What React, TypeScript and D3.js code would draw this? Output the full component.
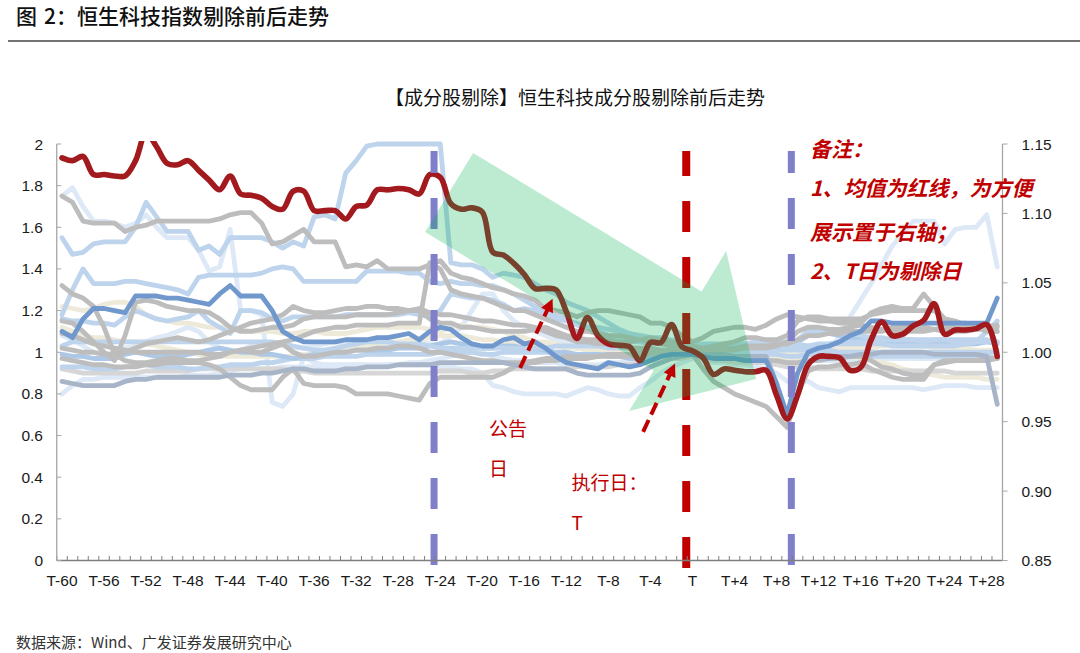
import React from 'react';
import * as d3 from 'd3';

const N = 90;
const CATEGORIES: string[] = Array.from({ length: N }, (_, i) =>
  i < 60 ? `T-${60 - i}` : i === 60 ? 'T' : `T+${i - 60}`
);
const X_TICK_LABELS = ['T-60','T-56','T-52','T-48','T-44','T-40','T-36','T-32','T-28','T-24','T-20','T-16','T-12','T-8','T-4','T','T+4','T+8','T+12','T+16','T+20','T+24','T+28'];
const LEFT_TICKS = [0, 0.2, 0.4, 0.6, 0.8, 1, 1.2, 1.4, 1.6, 1.8, 2];
const LEFT_TICK_LABELS = ['0','0.2','0.4','0.6','0.8','1','1.2','1.4','1.6','1.8','2'];
const RIGHT_TICKS = [0.85, 0.9, 0.95, 1.0, 1.05, 1.1, 1.15];
const RIGHT_TICK_LABELS = ['0.85','0.90','0.95','1.00','1.05','1.10','1.15'];

// mean (right axis)
const MEAN = [
  1.140,1.138,1.141,1.128,1.128,1.127,1.127,1.138,1.158,1.148,
  1.136,1.135,1.138,1.131,1.124,1.117,1.127,1.114,1.113,1.111,
  1.105,1.103,1.116,1.116,1.102,1.102,1.102,1.096,1.105,1.106,
  1.117,1.117,1.118,1.117,1.114,1.128,1.126,1.107,1.103,1.104,
  1.101,1.072,1.070,1.064,1.056,1.046,1.046,1.045,1.029,1.010,
  1.025,1.012,1.006,1.005,1.004,0.994,1.007,1.007,1.020,1.004,
  1.001,0.996,0.984,0.988,0.987,0.986,0.986,0.987,0.969,0.952,
  0.969,0.991,0.997,0.997,0.996,0.987,0.989,1.009,1.022,1.012,
  1.013,1.019,1.023,1.035,1.013,1.016,1.016,1.017,1.020,0.997,
];

// constituent stocks (left axis)
const PALE1 = [
  1.75,1.79,1.70,1.63,1.63,1.62,1.60,1.62,1.66,1.60,
  1.55,1.55,1.55,1.49,1.39,1.41,1.59,1.20,1.20,1.18,
  0.76,0.74,0.80,0.98,0.95,0.94,0.94,0.94,0.94,0.94,
  0.94,0.94,0.94,0.94,0.94,0.94,0.93,0.93,0.92,0.92,
  0.90,0.84,0.83,0.81,0.80,0.80,0.80,0.80,0.79,0.81,
  0.83,0.82,0.80,0.79,0.79,0.83,0.86,0.90,0.93,0.95,
  0.97,0.96,0.95,0.95,0.94,0.94,0.93,0.92,0.90,0.86,
  0.86,0.86,0.83,0.82,0.81,0.83,0.83,0.83,0.83,0.83,
  0.83,0.83,0.82,0.83,0.84,0.84,0.84,0.83,0.83,0.83,
];
const PALE2 = [
  0.80,0.84,0.87,0.87,0.88,0.88,0.88,0.88,0.88,0.88,
  0.88,0.88,0.89,0.89,0.89,0.90,0.91,0.92,0.92,0.92,
  0.92,0.93,0.93,0.93,0.93,0.93,0.92,0.92,0.92,0.93,
  0.93,0.94,0.94,0.95,0.95,0.96,0.97,0.98,0.99,1.00,
  1.00,0.98,0.97,0.96,0.96,0.95,0.95,0.95,0.94,0.94,
  0.94,0.94,0.95,0.95,0.96,0.96,0.97,0.97,0.98,0.98,
  0.98,0.98,0.98,0.97,0.97,0.97,0.96,0.96,0.96,0.95,
  0.95,0.96,0.96,0.96,0.96,0.96,0.97,0.97,0.97,0.97,
  0.97,0.97,0.97,0.97,0.97,0.97,0.97,0.97,0.97,0.97,
];
const PALE3 = [
  1.08,1.06,1.03,1.00,0.99,1.00,1.02,1.03,1.05,1.07,
  1.08,1.10,1.12,1.10,1.05,1.02,1.00,1.01,1.03,1.04,
  1.04,1.03,1.02,1.02,1.03,1.04,1.05,1.04,1.03,1.02,
  1.02,1.03,1.04,1.05,1.05,1.04,1.04,1.08,1.12,1.20,
  1.28,1.28,1.20,1.15,1.12,1.10,1.08,1.06,1.05,1.04,
  1.03,1.02,1.02,1.01,1.01,1.00,1.00,1.00,1.00,1.00,
  1.00,1.00,1.00,0.99,0.99,0.99,0.98,0.98,0.98,0.98,
  0.98,0.99,1.00,1.00,1.08,1.17,1.25,1.33,1.42,1.51,
  1.57,1.63,1.63,1.63,1.52,1.59,1.60,1.60,1.66,1.41,
];
const BEIGE1 = [
  1.22,1.21,1.20,1.21,1.23,1.24,1.24,1.22,1.18,1.16,
  1.15,1.14,1.14,1.13,1.12,1.12,1.12,1.11,1.10,1.10,
  1.10,1.09,1.09,1.10,1.10,1.09,1.09,1.09,1.10,1.11,
  1.12,1.12,1.12,1.12,1.12,1.11,1.10,1.12,1.13,1.12,
  1.12,1.11,1.10,1.08,1.07,1.05,1.05,1.04,1.03,1.02,
  1.02,1.02,1.01,1.01,1.01,1.00,1.00,1.01,1.01,1.00,
  1.00,1.00,1.00,1.01,1.00,1.00,0.99,0.99,0.98,0.97,
  0.97,0.98,0.99,0.99,0.98,0.98,0.97,0.96,0.95,0.94,
  0.92,0.91,0.90,0.89,0.88,0.88,0.88,0.88,0.87,0.87,
];
const BEIGE2 = [
  1.12,1.10,1.08,1.07,1.07,1.06,1.05,1.05,1.04,1.03,
  1.02,1.01,1.00,0.99,0.98,0.98,0.98,0.98,0.98,0.98,
  0.98,0.98,0.98,0.99,0.99,1.00,1.01,1.02,1.03,1.03,
  1.04,1.05,1.05,1.06,1.06,1.07,1.08,1.08,1.08,1.07,
  1.06,1.06,1.05,1.05,1.04,1.04,1.03,1.03,1.02,1.02,
  1.01,1.01,1.01,1.00,1.00,1.00,1.00,1.00,1.00,1.00,
  1.00,1.00,1.00,1.00,1.00,1.00,1.00,1.00,0.99,0.99,
  1.00,1.01,1.01,1.01,1.02,1.02,1.02,1.02,1.03,1.03,
  1.03,1.03,1.03,1.02,1.02,1.02,1.02,1.01,1.01,1.01,
];
const LGREY1 = [
  0.92,0.91,0.90,0.90,0.90,0.90,0.90,0.90,0.91,0.91,
  0.91,0.91,0.91,0.92,0.92,0.92,0.92,0.92,0.92,0.92,
  0.92,0.92,0.91,0.91,0.90,0.90,0.90,0.90,0.90,0.90,
  0.90,0.90,0.90,0.90,0.90,0.90,0.91,0.91,0.91,0.90,
  0.90,0.91,0.91,0.92,0.92,0.92,0.92,0.92,0.92,0.93,
  0.93,0.93,0.93,0.94,0.94,0.95,0.96,0.96,0.97,0.97,
  0.98,0.97,0.96,0.96,0.95,0.95,0.95,0.95,0.94,0.93,
  0.93,0.93,0.92,0.92,0.92,0.92,0.92,0.91,0.91,0.91,
  0.91,0.91,0.91,0.91,0.91,0.90,0.90,0.90,0.90,0.90,
];
const BLUE_E = [
  0.93,0.93,0.93,0.92,0.92,0.92,0.93,0.94,0.94,0.93,
  0.93,0.93,0.92,0.92,0.93,0.93,0.94,0.94,0.94,0.95,
  0.95,0.96,0.97,0.97,0.97,0.98,0.98,0.98,0.98,0.99,
  0.99,0.99,0.99,0.99,0.99,0.99,1.00,1.00,1.00,1.00,
  0.99,0.99,1.00,1.00,1.00,1.00,1.00,0.99,0.99,0.99,
  0.99,0.99,0.99,0.99,0.99,0.99,1.00,1.00,1.00,1.00,
  1.00,1.00,1.00,1.00,1.00,0.99,0.99,0.99,0.99,0.98,
  0.98,0.99,0.99,0.99,0.98,0.98,0.98,0.98,0.98,0.98,
  0.98,0.98,0.98,0.98,0.98,0.98,0.98,0.98,0.98,0.97,
];
const BLUE_F = [
  0.99,0.98,0.98,0.97,0.97,0.97,0.99,1.00,0.99,0.98,
  0.98,0.98,0.99,1.00,1.01,1.02,1.01,1.00,1.00,0.99,
  0.99,0.98,0.97,0.98,0.99,1.00,1.00,1.00,1.01,1.01,
  1.01,1.01,1.02,1.02,1.02,1.03,1.04,1.05,1.04,1.03,
  1.02,1.02,1.03,1.03,1.02,1.02,1.01,1.00,1.00,0.99,
  0.99,0.99,0.98,0.98,0.97,0.97,0.98,0.99,0.99,1.00,
  1.00,1.01,1.01,1.01,1.02,1.02,1.02,1.02,1.02,1.03,
  1.05,1.08,1.09,1.09,1.08,1.07,1.06,1.05,1.04,1.04,
  1.04,1.04,1.04,1.04,1.04,1.04,1.04,1.04,1.05,1.05,
];
const BLUE_D = [
  1.03,1.05,1.05,1.05,1.05,1.05,1.05,1.05,1.05,1.05,
  1.05,1.05,1.05,1.05,1.05,1.05,1.05,1.05,1.05,1.05,
  1.05,1.04,1.03,1.02,1.01,1.01,1.02,1.03,1.04,1.05,
  1.05,1.05,1.04,1.04,1.04,1.03,1.02,1.02,1.02,1.02,
  1.02,1.02,1.02,1.02,1.02,1.02,1.02,1.03,1.03,1.03,
  1.03,1.03,1.02,1.02,1.02,1.02,1.01,1.01,1.01,1.01,
  1.00,1.00,1.00,1.00,1.00,1.01,1.01,1.01,1.01,1.01,
  1.01,1.01,1.01,1.01,1.00,1.00,1.00,1.00,1.00,1.00,
  1.00,1.00,1.00,1.00,1.00,1.00,1.00,1.00,1.00,1.00,
];
const BLUE_C = [
  1.16,1.15,1.15,1.14,1.14,1.13,1.17,1.20,1.18,1.16,
  1.15,1.16,1.17,1.20,1.15,1.12,1.09,1.20,1.20,1.19,
  1.16,1.15,1.17,1.17,1.17,1.17,1.17,1.18,1.18,1.18,
  1.18,1.18,1.18,1.19,1.18,1.17,1.20,1.28,1.27,1.26,
  1.26,1.25,1.23,1.20,1.21,1.20,1.18,1.16,1.15,1.14,
  1.12,1.12,1.11,1.10,1.09,1.08,1.07,1.07,1.06,1.05,
  1.04,1.04,1.04,1.04,1.03,1.03,1.03,1.03,1.03,1.02,
  1.03,1.03,1.04,1.04,1.04,1.04,1.04,1.04,1.04,1.03,
  1.03,1.03,1.03,1.03,1.03,1.03,1.04,1.05,1.10,1.15,
];
const BLUE_B = [
  1.18,1.30,1.40,1.33,1.33,1.33,1.34,1.34,1.33,1.32,
  1.31,1.30,1.28,1.36,1.37,1.37,1.37,1.37,1.37,1.38,
  1.40,1.41,1.40,1.34,1.34,1.34,1.34,1.34,1.34,1.39,
  1.39,1.39,1.39,1.38,1.38,1.34,1.33,1.34,1.33,1.33,
  1.32,1.32,1.30,1.28,1.25,1.22,1.20,1.18,1.16,1.13,
  1.12,1.10,1.08,1.06,1.05,1.05,1.04,1.04,1.03,1.02,
  1.01,1.01,1.02,1.02,1.03,1.03,1.03,1.04,1.05,1.05,
  1.06,1.10,1.10,1.10,1.10,1.10,1.08,1.07,1.07,1.06,
  1.06,1.06,1.05,1.06,1.06,1.06,1.06,1.06,1.06,1.05,
];
const BLUE_A = [
  1.55,1.47,1.48,1.52,1.53,1.53,1.53,1.60,1.72,1.65,
  1.58,1.58,1.58,1.49,1.51,1.47,1.55,1.55,1.55,1.55,
  1.53,1.50,1.53,1.51,1.65,1.66,1.64,1.86,1.92,1.99,
  2.00,2.00,2.00,2.00,2.00,2.00,2.00,1.43,1.42,1.42,
  1.40,1.36,1.38,1.37,1.36,1.33,1.30,1.28,1.24,1.22,
  1.20,1.17,1.14,1.11,1.09,1.08,1.07,1.06,1.05,1.03,
  1.01,1.01,1.02,1.03,1.04,1.04,1.05,1.05,1.05,1.04,
  1.04,1.03,1.03,1.04,1.05,1.05,1.05,1.05,1.06,1.06,
  1.06,1.06,1.06,1.06,1.06,1.05,1.05,1.05,1.05,1.04,
];
const GREY_F = [
  1.02,1.01,1.00,1.00,0.99,0.99,1.00,1.02,1.04,1.05,
  1.06,1.07,1.06,1.05,1.06,1.08,1.10,1.12,1.14,1.15,
  1.16,1.18,1.22,1.20,1.19,1.19,1.20,1.21,1.21,1.22,
  1.22,1.21,1.21,1.20,1.20,1.16,1.14,1.14,1.12,1.12,
  1.11,1.10,1.10,1.10,1.10,1.11,1.12,1.10,1.08,1.07,
  1.06,1.06,1.06,1.05,1.05,1.06,1.07,1.06,1.05,1.04,
  1.03,1.02,1.03,1.04,1.05,1.07,1.07,1.06,1.06,1.08,
  1.15,1.17,1.17,1.16,1.16,1.16,1.16,1.18,1.19,1.20,
  1.20,1.20,1.20,1.20,1.16,1.14,1.14,1.13,1.13,1.12,
];
const GREY_E = [
  1.09,1.08,1.06,1.04,1.03,1.02,1.01,1.00,1.00,1.00,
  1.00,1.00,1.00,1.00,0.99,0.99,1.00,1.01,1.02,1.03,
  1.04,1.05,1.06,1.08,1.10,1.11,1.12,1.12,1.13,1.13,
  1.13,1.13,1.14,1.14,1.14,1.43,1.40,1.30,1.28,1.27,
  1.26,1.24,1.22,1.20,1.20,1.18,1.16,1.14,1.12,1.10,
  1.10,1.09,1.08,1.08,1.07,1.06,1.05,1.04,1.03,1.02,
  1.01,1.01,1.02,1.02,1.02,1.03,1.03,1.03,1.04,1.04,
  1.06,1.08,1.08,1.09,1.09,1.10,1.10,1.10,1.10,1.12,
  1.12,1.12,1.12,1.11,1.12,1.12,1.11,1.11,1.11,1.10,
];
const GREY_D = [
  0.97,0.96,0.95,0.94,0.94,0.93,0.93,0.93,0.94,0.94,
  0.95,0.95,0.95,0.95,0.94,0.92,0.88,0.84,0.82,0.82,
  0.82,0.88,0.92,0.85,0.84,0.84,0.84,0.83,0.80,0.80,
  0.80,0.80,0.79,0.78,0.77,0.85,0.88,0.88,0.88,0.88,
  0.88,0.88,0.90,0.93,0.95,0.95,0.96,0.96,0.97,0.97,
  0.97,0.98,0.98,0.98,0.98,0.99,0.99,0.99,1.00,1.00,
  0.99,0.92,0.86,0.83,0.80,0.78,0.76,0.74,0.69,0.64,
  0.80,0.91,0.93,0.93,0.94,0.94,0.95,0.92,0.90,0.88,
  0.87,0.87,0.87,0.94,0.95,0.96,0.96,0.96,0.96,0.97,
];
const GREY_C = [
  1.15,1.14,1.10,1.05,1.00,0.96,1.08,1.24,1.25,1.24,
  1.22,1.21,1.20,1.20,1.19,1.16,1.12,1.10,1.10,1.11,
  1.12,1.12,1.13,1.16,1.17,1.17,1.17,1.17,1.18,1.18,
  1.18,1.18,1.19,1.20,1.21,1.19,1.18,1.18,1.17,1.16,
  1.15,1.15,1.14,1.13,1.13,1.12,1.10,1.08,1.07,1.05,
  1.05,1.04,1.04,1.03,1.02,1.02,1.02,1.01,1.01,1.01,
  1.00,1.00,1.01,1.01,1.01,1.02,1.02,1.02,1.03,1.05,
  1.10,1.12,1.12,1.11,1.11,1.12,1.13,1.12,1.11,1.10,
  1.10,1.10,1.10,1.11,1.10,1.10,1.10,1.11,1.12,1.13,
];
const GREY_B = [
  1.32,1.28,1.26,1.22,1.12,0.99,0.96,0.95,0.95,0.96,
  0.97,0.97,0.96,0.96,0.97,0.98,1.00,1.01,1.00,1.00,
  1.02,1.04,1.00,0.98,0.98,0.99,1.00,1.00,1.01,1.01,
  1.02,1.02,1.03,1.03,1.02,1.00,1.00,0.99,0.98,0.97,
  0.96,0.96,0.95,0.95,0.95,0.96,0.97,0.97,0.98,0.98,
  0.98,0.98,0.99,0.99,0.99,1.00,1.00,1.00,1.01,1.01,
  1.00,0.99,0.98,0.97,0.97,0.96,0.96,0.96,0.96,0.95,
  0.95,0.96,0.96,0.97,0.97,0.98,0.98,0.96,0.93,0.92,
  0.90,0.89,0.89,0.94,0.96,0.96,0.96,0.96,0.97,0.97,
];
const GREY_A = [
  1.75,1.72,1.63,1.62,1.62,1.62,1.58,1.60,1.61,1.63,
  1.63,1.63,1.63,1.63,1.63,1.64,1.66,1.67,1.67,1.62,
  1.52,1.53,1.56,1.59,1.53,1.53,1.53,1.41,1.42,1.41,
  1.44,1.40,1.40,1.40,1.40,1.42,1.44,1.38,1.36,1.35,
  1.33,1.31,1.30,1.28,1.27,1.25,1.21,1.20,1.19,1.17,
  1.19,1.20,1.20,1.19,1.18,1.17,1.14,1.14,1.12,1.08,
  1.05,1.07,1.10,1.11,1.12,1.12,1.11,1.13,1.16,1.18,
  1.17,1.16,1.15,1.15,1.14,1.14,1.14,1.19,1.21,1.22,
  1.21,1.21,1.28,1.22,1.16,1.15,1.13,1.12,1.10,1.10,
];
const SLATE1 = [
  0.86,0.85,0.84,0.84,0.84,0.84,0.86,0.87,0.87,0.88,
  0.88,0.88,0.88,0.88,0.88,0.88,0.89,0.89,0.89,0.90,
  0.90,0.91,0.92,0.92,0.91,0.91,0.91,0.92,0.92,0.93,
  0.93,0.93,0.94,0.94,0.94,0.94,0.95,0.95,0.95,0.95,
  0.95,0.95,0.95,0.94,0.93,0.92,0.92,0.92,0.92,0.90,
  0.89,0.89,0.89,0.89,0.89,0.90,0.93,0.95,0.97,0.98,
  0.99,0.99,0.99,0.99,0.98,0.98,0.98,0.98,0.85,0.68,
  0.80,0.95,0.97,0.97,0.98,0.98,0.99,0.99,1.00,1.00,
  1.00,1.00,1.00,0.99,0.99,0.99,0.99,0.99,0.98,0.75,
];
const STEEL1 = [
  1.10,1.07,1.16,1.21,1.21,1.20,1.19,1.27,1.27,1.27,
  1.26,1.26,1.25,1.24,1.23,1.28,1.32,1.27,1.27,1.27,
  1.20,1.10,1.07,1.05,1.05,1.05,1.05,1.06,1.06,1.06,
  1.07,1.07,1.08,1.09,1.06,1.10,1.12,1.11,1.07,1.04,
  1.03,1.03,1.06,1.07,1.04,1.05,1.02,0.98,0.95,0.94,
  0.93,0.92,0.95,0.94,0.93,0.94,0.96,0.98,0.99,0.99,
  0.99,0.98,0.97,0.97,0.97,0.96,0.96,0.96,0.85,0.70,
  0.90,1.00,1.02,1.03,1.05,1.08,1.10,1.15,1.15,1.14,
  1.14,1.14,1.14,1.14,1.14,1.14,1.14,1.14,1.14,1.26,
];

const C_GREY = '#BDBDBD';
const C_LGREY = '#D6D6D6';
const C_BLUE1 = '#BDD4EC';
const C_BLUE2 = '#DDE9F6';
const C_BLUEF = '#ADC8E6';
const C_STEEL = '#7098CC';
const C_BEIGE = '#EEEADA';
const C_SLATE = '#A8B4C8';
const C_MEAN = '#A21A1E';
const C_RED = '#C00000';
const C_VBLUE = '#7F7FCA';

const SERIES = [
  { values: PALE1, color: C_BLUE2 },
  { values: PALE2, color: C_BLUE2 },
  { values: PALE3, color: C_BLUE2 },
  { values: BEIGE1, color: C_BEIGE },
  { values: BEIGE2, color: C_BEIGE },
  { values: LGREY1, color: C_LGREY },
  { values: BLUE_E, color: C_BLUE1 },
  { values: BLUE_F, color: C_BLUEF },
  { values: BLUE_D, color: C_BLUE1 },
  { values: BLUE_C, color: C_BLUE1 },
  { values: BLUE_B, color: C_BLUE1 },
  { values: BLUE_A, color: C_BLUE1 },
  { values: GREY_F, color: C_GREY },
  { values: GREY_E, color: C_GREY },
  { values: GREY_D, color: C_GREY },
  { values: GREY_C, color: C_GREY },
  { values: GREY_B, color: C_GREY },
  { values: GREY_A, color: C_GREY },
  { values: SLATE1, color: C_SLATE },
  { values: STEEL1, color: C_STEEL },
];

// vertical event markers (drawn on the left edge of the category)
const EVENTS = [
  { cat: 'T-24', color: C_VBLUE, width: 7 },
  { cat: 'T', color: C_RED, width: 8 },
  { cat: 'T+10', color: C_VBLUE, width: 7 },
];

// green trend arrow in data coordinates [category index, left value]
const TREND_ARROW: [number, number][] = [
  [39.12, 1.957], [60.86, 1.292], [63.2, 1.486], [66.05, 0.872],
  [53.96, 0.718], [56.3, 0.912], [34.55, 1.577],
];
// red dashed pointers [from, to]
const POINTERS: [number, number][][] = [
  [[43.59, 0.925], [46.6, 1.248]],
  [[55.3, 0.618], [58.25, 0.937]],
];

const LATIN = '"Liberation Sans", Arial, "Noto Sans CJK SC", sans-serif';
const CJK = '"Noto Sans CJK SC", "Liberation Sans", sans-serif';

export default function App() {
  const W = 1080, H = 653;
  const left = 56.75, right = 1002.5, top = 144, bottom = 560.5;
  const x = d3.scaleLinear().domain([-0.5, N - 0.5]).range([left, right]);
  const yL = d3.scaleLinear().domain([0, 2]).range([bottom, top]);
  const yR = d3.scaleLinear().domain([0.85, 1.15]).range([bottom, top]);

  const stockLine = d3.line<number>().x((_, i) => x(i)).y((d) => yL(d));
  const meanLine = d3.line<number>().x((_, i) => x(i)).y((d) => yR(d)).curve(d3.curveCatmullRom.alpha(0.5));
  const arrowPath = d3.line<[number, number]>().x((d) => x(d[0])).y((d) => yL(d[1]));

  const tickIdx = X_TICK_LABELS.map((l) => CATEGORIES.indexOf(l));

  return (
    <svg width={W} height={H} style={{ position: 'absolute', left: 0, top: 0, background: '#fff' }}>
      <defs>
        <clipPath id="plotClip">
          <rect x={left} y={top - 3} width={right - left} height={bottom - top + 3} />
        </clipPath>
        <marker id="arrowHead" viewBox="0 0 12 12" refX="10" refY="6" markerWidth="14" markerHeight="13" markerUnits="userSpaceOnUse" orient="auto">
          <path d="M0,0 L12,6 L0,12 Z" fill={C_RED} />
        </marker>
      </defs>
      <rect x={0} y={0} width={W} height={H} fill="#fff" />

      {/* page title */}
      <text x={16} y={15} fontFamily={CJK} fontSize={21} fontWeight={500} fill="#111" dominantBaseline="central">
        图<tspan dx={7}>2：恒生科技指数剔除前后走势</tspan>
      </text>
      <line x1={8} x2={1080} y1={41} y2={41} stroke="#444" strokeWidth={1.5} />

      {/* chart title */}
      <text x={575} y={96.5} fontFamily={CJK} fontSize={19} fill="#111" textAnchor="middle" dominantBaseline="central">【成分股剔除】恒生科技成分股剔除前后走势</text>

      {/* stock lines */}
      <g fill="none" strokeWidth={4.8} strokeLinejoin="round" strokeLinecap="round">
        {SERIES.map((s, k) => (
          <path key={k} d={stockLine(s.values) || ''} stroke={s.color} />
        ))}
      </g>

      {/* mean line */}
      <path d={meanLine(MEAN) || ''} fill="none" stroke={C_MEAN} strokeWidth={5.6} strokeLinejoin="round" strokeLinecap="round" clipPath="url(#plotClip)" />

      {/* event markers */}
      {EVENTS.map((e, k) => {
        const xi = x(CATEGORIES.indexOf(e.cat) - 0.5) - 1;
        const y0 = e.color === C_RED ? 568 : 565;
        return (
          <line key={k} x1={xi} x2={xi} y1={y0} y2={151} stroke={e.color} strokeWidth={e.width} strokeDasharray="31 25" />
        );
      })}

      {/* axes */}
      <line x1={left} x2={right} y1={bottom} y2={bottom} stroke="#7f7f7f" strokeWidth={1.3} />
      {CATEGORIES.map((_, i) => (
        <line key={i} x1={x(i - 0.5)} x2={x(i - 0.5)} y1={bottom} y2={bottom - 4.5} stroke="#7f7f7f" strokeWidth={1} />
      ))}
      <line x1={right} x2={right} y1={bottom} y2={bottom - 4.5} stroke="#7f7f7f" strokeWidth={1} />
      <line x1={left} x2={left} y1={top} y2={bottom} stroke="#a6a6a6" strokeWidth={1.3} />
      <line x1={right} x2={right} y1={top} y2={bottom} stroke="#a6a6a6" strokeWidth={1.3} />
      {LEFT_TICKS.map((v, k) => (
        <g key={k}>
          <line x1={left} x2={left + 4.5} y1={yL(v)} y2={yL(v)} stroke="#a6a6a6" strokeWidth={1} />
          <text x={43} y={yL(v)} textAnchor="end" dominantBaseline="central" fontFamily={LATIN} fontSize={15.5} fill="#1a1a1a">{LEFT_TICK_LABELS[k]}</text>
        </g>
      ))}
      {RIGHT_TICKS.map((v, k) => (
        <g key={k}>
          <line x1={right} x2={right + 5} y1={yR(v)} y2={yR(v)} stroke="#a6a6a6" strokeWidth={1} />
          <text x={1021.5} y={yR(v)} textAnchor="start" dominantBaseline="central" fontFamily={LATIN} fontSize={15.5} fill="#1a1a1a">{RIGHT_TICK_LABELS[k]}</text>
        </g>
      ))}
      {tickIdx.map((i, k) => (
        <text key={k} x={x(i)} y={580.5} textAnchor="middle" dominantBaseline="central" fontFamily={LATIN} fontSize={15.5} fill="#1a1a1a">{X_TICK_LABELS[k]}</text>
      ))}

      {/* green trend arrow */}
      <path d={(arrowPath(TREND_ARROW) || '') + 'Z'} fill="#00B050" fillOpacity={0.26} stroke="none" />

      {/* red dashed pointers */}
      {POINTERS.map((p, k) => (
        <path key={k} d={arrowPath(p as [number, number][]) || ''} fill="none" stroke={C_RED} strokeWidth={4} strokeDasharray="13 6" markerEnd="url(#arrowHead)" />
      ))}

      {/* annotations */}
      <g fontFamily={CJK} fontSize={19} fill={C_RED} dominantBaseline="central">
        <text x={489} y={427}>公告</text>
        <text x={489} y={467.5}>日</text>
        <text x={571.5} y={481.5}>执行日：</text>
        <text x={571.5} y={521.5}>T</text>
      </g>
      <g fontFamily={CJK} fontSize={21} fill={C_RED} fontWeight="bold" fontStyle="italic" dominantBaseline="central">
        <text x={810} y={148}>备注：</text>
        <text x={810} y={187}>1、均值为红线，为方便</text>
        <text x={810} y={230.5}>展示置于右轴；</text>
        <text x={810} y={270}>2、T日为剔除日</text>
      </g>

      {/* source */}
      <text x={16} y={641} fontFamily={CJK} fontSize={15} fill="#333" dominantBaseline="central">数据来源：Wind、广发证券发展研究中心</text>
    </svg>
  );
}
